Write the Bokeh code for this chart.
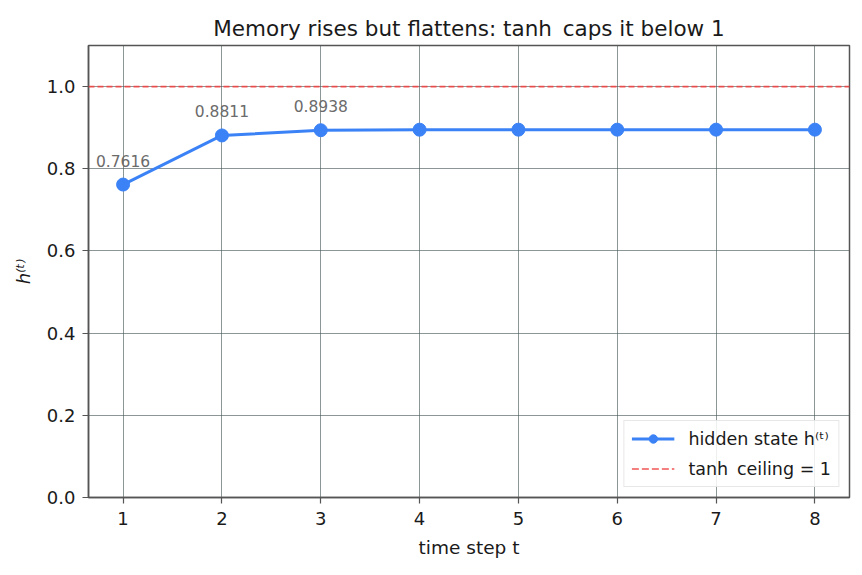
from bokeh.plotting import figure
from bokeh.models import ColumnDataSource, FixedTicker, PrintfTickFormatter, Span, Legend, LegendItem, Range1d
from bokeh.core.properties import value
from bokeh.embed import file_html
from bokeh.resources import INLINE

# data
steps = [1, 2, 3, 4, 5, 6, 7, 8]
hidden = [0.7616, 0.8811, 0.8938, 0.8951, 0.8952, 0.8952, 0.8952, 0.8952]
ann_steps = [1, 2, 3]
ann_vals = [0.7616, 0.8811, 0.8938]
ann_labels = ["0.7616", "0.8811", "0.8938"]
ceiling = 1.0
x_ticks = [1, 2, 3, 4, 5, 6, 7, 8]
y_ticks = [0.0, 0.2, 0.4, 0.6, 0.8, 1.0]

FONT = "DejaVu Sans"
BLUE = "#3b82f6"
RED = "#ef4444"
TXT = "#1a1a1a"

p = figure(width=862, height=575, output_backend="svg", toolbar_location=None,
           x_range=Range1d(0.65, 8.35), y_range=Range1d(0.0, 1.1),
           min_border_left=88, min_border_right=13, min_border_top=45, min_border_bottom=78)

p.title.text = "Memory rises but flattens: tanh\u2002caps it below 1"
p.title.align = "center"
p.title.text_font = FONT
p.title.text_font_size = "21.5px"
p.title.text_font_style = "normal"
p.title.text_color = TXT
p.title.standoff = 9

p.background_fill_color = "white"
p.border_fill_color = "white"
p.outline_line_color = "#555555"
p.outline_line_width = 1.5

src = ColumnDataSource(dict(x=steps, y=hidden))
ln = p.line("x", "y", source=src, line_color=BLUE, line_width=3)
sc = p.scatter("x", "y", source=src, size=13, fill_color=BLUE, line_color=BLUE)

span = Span(location=ceiling, dimension="width", line_color=RED, line_alpha=0.9,
            line_dash="6 3", line_width=1.6)
p.add_layout(span)
# proxy for legend
proxy = p.line([0, 0], [-1, -1], line_color=RED, line_alpha=0.9, line_dash="7 3", line_width=1.6)

asrc = ColumnDataSource(dict(x=ann_steps, y=ann_vals, t=ann_labels))
p.text("x", "y", text="t", source=asrc, text_align="center", text_baseline="alphabetic",
       y_offset=-24, text_font=value(FONT), text_font_size="15.5px", text_color="#6b6b6b")

legend = Legend(items=[LegendItem(label="hidden state h\u207d\u1d57\u207e", renderers=[ln, sc]),
                       LegendItem(label="tanh\u2002ceiling = 1", renderers=[proxy])],
                location="bottom_right", label_text_font=FONT, label_text_font_size="17.5px",
                label_text_color=TXT, border_line_color="#d0d0d0", border_line_width=1,
                background_fill_alpha=0.85, glyph_width=43, glyph_height=21, label_height=21,
                spacing=9, padding=7, margin=10, label_standoff=14)
p.add_layout(legend)

for ax in (p.xaxis, p.yaxis):
    ax.axis_line_color = "#555555"
    ax.axis_line_width = 1.5
    ax.major_tick_line_color = "#555555"
    ax.major_tick_line_width = 1.2
    ax.major_tick_out = 6
    ax.major_tick_in = 0
    ax.minor_tick_line_color = None
    ax.major_label_text_font = FONT
    ax.major_label_text_font_size = "18px"
    ax.major_label_text_color = TXT
    ax.axis_label_text_font = FONT
    ax.axis_label_text_font_size = "18px"
    ax.axis_label_text_color = TXT

p.xaxis.ticker = FixedTicker(ticks=x_ticks)
p.yaxis.ticker = FixedTicker(ticks=y_ticks)
p.yaxis.formatter = PrintfTickFormatter(format="%.1f")
p.yaxis.axis_label = "h\u207d\u1d57\u207e"
p.yaxis.axis_label_text_font_style = "italic"
p.yaxis.axis_label_standoff = 10
p.xaxis.axis_label = "time step t"
p.xaxis.axis_label_text_font_style = "normal"
p.xaxis.axis_label_text_font_size = "18.5px"
p.xaxis.axis_label_standoff = 9
p.xaxis.major_label_standoff = 8
p.yaxis.major_label_standoff = 7

p.grid.grid_line_color = "#4a5a5a"
p.grid.grid_line_alpha = 0.8
p.grid.grid_line_width = 0.8
p.xgrid.ticker = FixedTicker(ticks=x_ticks)
p.ygrid.ticker = FixedTicker(ticks=y_ticks)

open("out.html", "w").write(file_html(p, INLINE))
